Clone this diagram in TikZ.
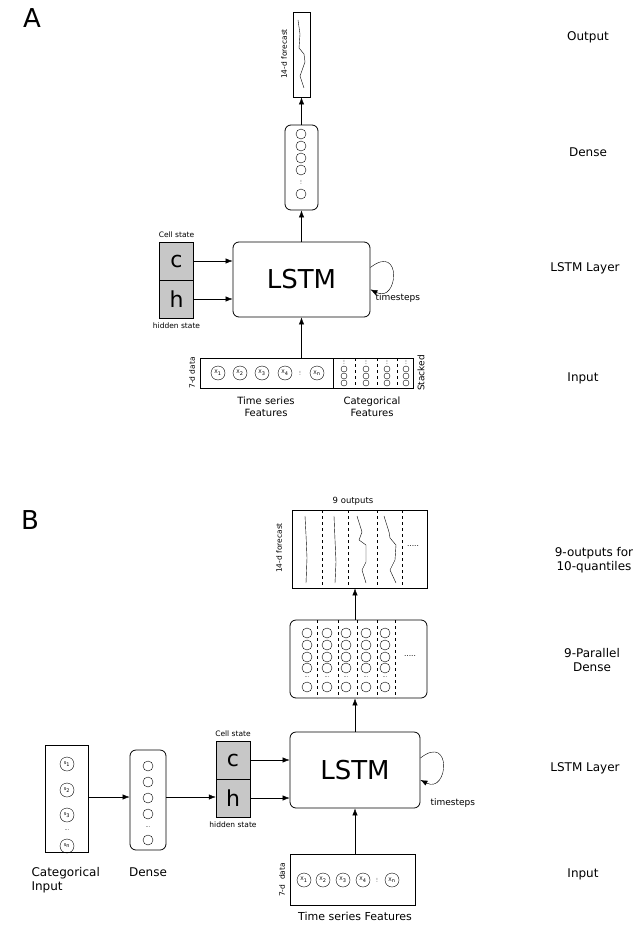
\documentclass[tikz,border=0pt]{standalone}
\usepackage{fontspec}
\setmainfont{DejaVu Sans}
\usetikzlibrary{arrows.meta,positioning}
\tikzset{
  box/.style={draw,thick,rounded corners=6pt,inner sep=0pt},
  sqbox/.style={draw,thick,inner sep=0pt},
  neuron/.style={draw,circle,minimum size=10pt,inner sep=0pt},
  xin/.style={draw,circle,minimum size=14pt,inner sep=0pt,font=\fontsize{5}{5}\selectfont},
  tiny/.style={draw,circle,minimum size=6pt,inner sep=0pt},
  dots/.style={inner sep=0pt,font=\fontsize{5}{5}\selectfont},
  state/.style={draw,fill=black!22,minimum width=34pt,minimum height=38pt,inner sep=0pt,font=\fontsize{22}{22}\selectfont},
  lbl/.style={font=\fontsize{12}{14}\selectfont,align=center},
  small/.style={font=\fontsize{7.5}{8}\selectfont},
  arr/.style={-{Latex[length=7pt]}},
}
\begin{document}
\begin{tikzpicture}[x=1pt,y=1pt,yscale=-1]
\useasboundingbox (0,0) rectangle (640,941);
% panel A
\node[font=\fontsize{26}{26}\selectfont] (A) at (32,18) {A};
\node[sqbox,minimum width=17pt,minimum height=85pt] (outA) at (301.5,54.5) {};
\draw (298,20) -- (300,34) -- (299,48) -- (304,54) -- (305,62) -- (300,76) -- (304,88);
\node[small,rotate=90] at (284,54) {14-d forecast};
\node[box,minimum width=33pt,minimum height=85pt] (denA) at (301.5,167.5) {};
\foreach \y in {134,146,158,170} \node[neuron] at (301,\y) {};
\node[dots,rotate=90] at (301,182) {...};
\node[neuron] at (301,194) {};
\node[box,minimum width=137pt,minimum height=75pt,font=\fontsize{26}{26}\selectfont] (lstmA) at (301.5,279.5) {LSTM};
\node[state] (cA) at (176.5,261) {c};
\node[state] (hA) at (176.5,299) {h};
\node[small,above=1pt of cA] {Cell state};
\node[small,below=1pt of hA] {hidden state};
\draw[arr] (cA.east) -- (cA.east -| lstmA.west);
\draw[arr] (hA.east) -- (hA.east -| lstmA.west);
\draw[arr] ([yshift=-12]lstmA.east) .. controls +(32,-25) and +(28,14) .. ([yshift=10]lstmA.east);
\node[font=\fontsize{9}{10}\selectfont,anchor=west] at (372,298) {timesteps};
\node[sqbox,minimum width=213pt,minimum height=30pt] (inA) at (306.5,373) {};
\draw[thick] (333,358) -- (333,388);
\foreach \x in {355,377,397} \draw[dashed] (\x,358) -- (\x,388);
\foreach \x/\i in {218/1,240/2,262/3,285/4} \node[xin] at (\x,373) {X\textsubscript{\i}};
\node[dots,rotate=90] at (300,373) {...};
\node[xin] at (317,373) {X\textsubscript{n}};
\foreach \x in {344,366,387,406} {
  \node[dots,rotate=90] at (\x,362) {...};
  \foreach \y in {369,376,383} \node[tiny] at (\x,\y) {};
}
\node[small,rotate=90] at (192,373) {7-d data};
\node[font=\fontsize{9}{10}\selectfont,rotate=90] at (421,373) {Stacked};
\node[lbl,font=\fontsize{10}{12}\selectfont] at (266,407) {Time series\\Features};
\node[lbl,font=\fontsize{10}{12}\selectfont] at (372,407) {Categorical\\Features};
\draw[arr] (lstmA.north -| denA.south) -- (denA.south);
\draw[arr] (denA.north) -- (outA.south);
\draw[arr] (inA.north -| lstmA.south) -- (lstmA.south);
\node[lbl] at (588,37) {Output};
\node[lbl] at (588,152) {Dense};
\node[lbl] at (585,268) {LSTM Layer};
\node[lbl] at (583,378) {Input};
% panel B
\node[font=\fontsize{26}{26}\selectfont] (B) at (30,520) {B};
\node[sqbox,minimum width=135pt,minimum height=78pt] (outB) at (359.5,549) {};
\foreach \x in {322,348,377,402} \draw[dashed] (\x,510) -- (\x,588);
\draw (305,516) -- (306,535) -- (307,558) -- (306,583);
\draw (334,516) -- (335,540) -- (336,562) -- (335,583);
\draw (357,516) -- (362,532) -- (359,540) -- (366,545) -- (366,562) -- (362,570) -- (366,583);
\draw (384,516) -- (389,532) -- (390,538) -- (396,545) -- (395,560) -- (390,570) -- (396,583);
\node[small] at (413,546) {.....};
\node[font=\fontsize{8.5}{9}\selectfont] at (353,501) {9 outputs};
\node[small,rotate=90] at (279,548) {14-d forecast};
\node[box,minimum width=137pt,minimum height=78pt] (denB) at (358.5,659) {};
\foreach \x in {317,338,357,377,395} \draw[dashed] (\x,620) -- (\x,698);
\foreach \x in {307,327,346,366,385} {
  \foreach \y in {633,645,657,668} \node[neuron] at (\x,\y) {};
  \node[dots] at (\x,677) {...};
  \node[neuron] at (\x,687) {};
}
\node[small] at (410,656) {.....};
\node[box,minimum width=130pt,minimum height=76pt,font=\fontsize{26}{26}\selectfont] (lstmB) at (355,770) {LSTM};
\node[state] (cB) at (233,760) {c};
\node[state] (hB) at (233,798) {h};
\node[small,above=1pt of cB] {Cell state};
\node[small,below=1pt of hB] {hidden state};
\draw[arr] (cB.east) -- (cB.east -| lstmB.west);
\draw[arr] (hB.east) -- (hB.east -| lstmB.west);
\draw[arr] ([yshift=-12]lstmB.east) .. controls +(32,-25) and +(28,14) .. ([yshift=10]lstmB.east);
\node[font=\fontsize{9}{10}\selectfont,anchor=west] at (427,803) {timesteps};
\node[sqbox,minimum width=43pt,minimum height=107pt] (catB) at (66.5,798.5) {};
\foreach \y/\i in {764/1,790/2,815/3} \node[xin] at (67,\y) {s\textsubscript{\i}};
\node[dots] at (67,830) {...};
\node[xin] at (67,846) {s\textsubscript{n}};
\node[box,minimum width=36pt,minimum height=100pt] (densB) at (148,800) {};
\foreach \y in {766,782,798,814} \node[neuron] at (148,\y) {};
\node[dots] at (148,827) {...};
\node[neuron] at (148,840) {};
\draw[arr] (catB.east |- 0,797) -- (densB.west |- 0,797);
\draw[arr] (densB.east |- 0,797) -- (hB.west |- 0,797);
\node[sqbox,minimum width=125pt,minimum height=51pt] (inB) at (352.5,879.5) {};
\foreach \x/\i in {304/1,323/2,343/3,363/4} \node[xin] at (\x,880) {X\textsubscript{\i}};
\node[dots,rotate=90] at (377,880) {...};
\node[xin] at (392,880) {X\textsubscript{n}};
\node[small,rotate=90] at (282,880) {7-d\ \ data};
\node[lbl,font=\fontsize{11}{12}\selectfont] at (355,916) {Time series Features};
\draw[arr] (inB.north -| lstmB.south) -- (lstmB.south);
\draw[arr] (lstmB.north) -- (lstmB.north |- denB.south);
\draw[arr] (lstmB.north |- denB.north) -- (lstmB.north |- outB.south);
\node[lbl,align=left,anchor=west] at (28,880) {Categorical\\Input};
\node[lbl] at (148,872) {Dense};
\node[lbl] at (594,560) {9-outputs for\\10-quantiles};
\node[lbl] at (592,660) {9-Parallel\\Dense};
\node[lbl] at (585,768) {LSTM Layer};
\node[lbl] at (583,874) {Input};
\end{tikzpicture}
\end{document}
